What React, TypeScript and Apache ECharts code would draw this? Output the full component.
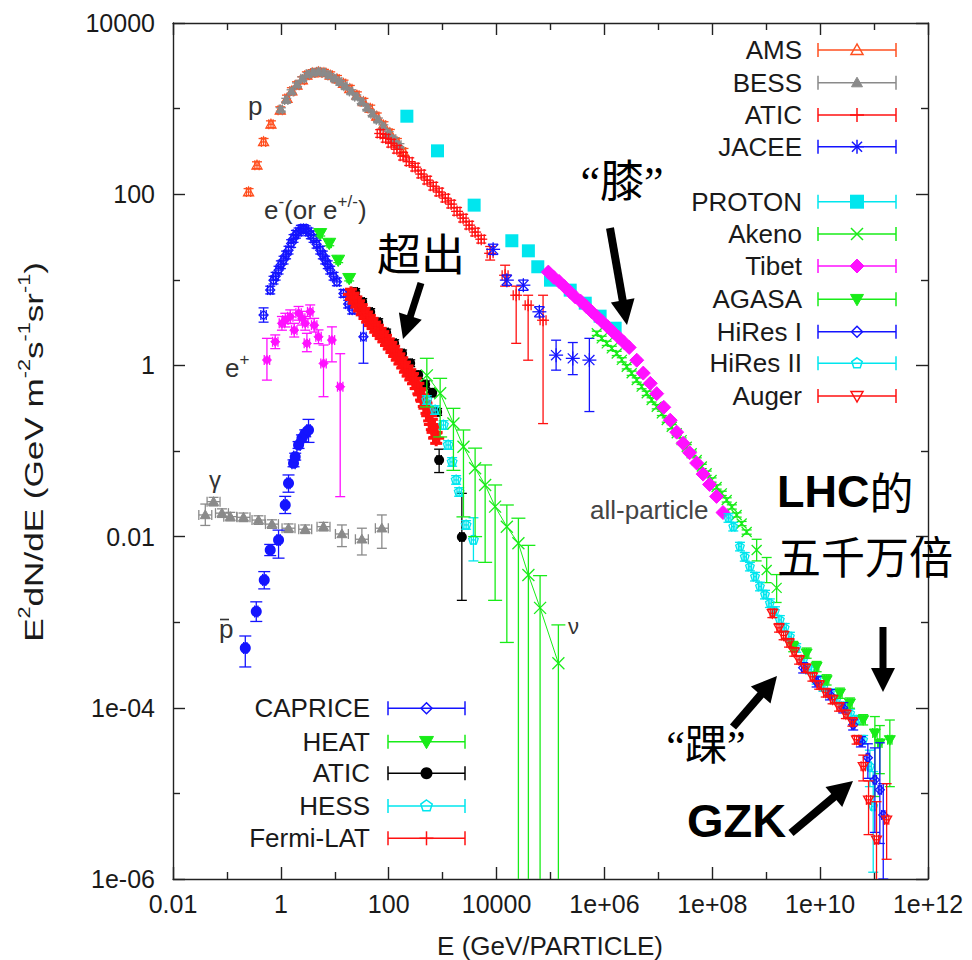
import React, { useEffect, useRef } from 'react';
import * as echarts from 'echarts';

const FONT = "'Liberation Sans', Arial, Helvetica, sans-serif";
const CJK = "'Noto Sans CJK SC', 'Noto Sans CJK JP', sans-serif";
const QCJK = "'Liberation Serif', 'Noto Sans CJK SC', serif";

// ---- axes ----
const xRange = [0.01, 1e12];
const yRange = [1e-6, 1e4];
const xMajorTicks = [0.01, 1, 100, 1e4, 1e6, 1e8, 1e10, 1e12];
const xMinorTicks = [0.1, 10, 1e3, 1e5, 1e7, 1e9, 1e11];
const xTickLabels = ['0.01', '1', '100', '10000', '1e+06', '1e+08', '1e+10', '1e+12'];
const yMajorTicks = [1e-6, 1e-4, 0.01, 1, 100, 1e4];
const yMinorTicks = [1e-5, 1e-3, 0.1, 10, 1000];
const yTickLabels = ['1e-06', '1e-04', '0.01', '1', '100', '10000'];

// ---- data: [E (GeV), E^2 dN/dE, (low), (high)] ----
const amsProton = [[0.252, 106], [0.361, 218], [0.478, 408], [0.655, 656], [0.975, 957], [1.3, 1310], [1.6, 1600], [1.99, 1875], [2.5, 2150], [3.04, 2450], [3.9, 2600], [4.99, 2680], [6.3, 2620], [8.22, 2450], [11, 2220], [14.5, 1960], [19, 1700], [25.7, 1430], [34, 1200], [45.4, 1000], [60, 810], [80, 640], [105, 520], [142, 408], [188, 312]];
const bessProton = [[1.0, 977], [1.26, 1259], [1.58, 1585], [2.0, 1905], [2.51, 2239], [3.16, 2512], [3.98, 2630], [5.01, 2692], [6.31, 2630], [7.94, 2455], [10, 2239], [12.6, 2042], [15.8, 1820], [20, 1585], [25.1, 1380], [31.6, 1202], [39.8, 1023], [50.1, 871], [63.1, 741], [79.4, 617], [100, 513], [126, 437], [158, 372]];
const aticProton = [[69.5, 512], [88, 450], [111, 394], [142, 335], [185, 278], [240, 240], [309, 207], [400, 172], [516, 146], [670, 124], [861, 106], [1120, 90], [1439, 76.6], [1850, 63], [2399, 52.5], [3100, 43.5], [4000, 36.1], [5200, 29.8], [7600, 20.4, 17, 24.5], [14400, 11.3, 8.43, 14.8], [23100, 6.6, 1.81, 8.43], [38500, 5.05, 1.15, 6.6], [72800, 3.37, 0.209, 6.6]];
const jaceeAll = [[8630, 22.7], [15500, 9.91], [31400, 8.65], [62200, 4.23], [1.27e5, 1.318, 0.88, 1.97], [2.59e5, 1.208, 0.78, 1.85], [5.26e5, 1.153, 0.289, 2.07]];
const protonSat = [[217, 815], [802, 321], [3837, 74.5], [19190, 28.5], [38900, 21.8], [58100, 14.2], [1.0e5, 9.9], [2.32e5, 7.57], [4.41e5, 5.33], [8.32e5, 3.76], [1.58e6, 2.72]];
const akenoAll = [[7.21e5, 2.37], [8.9e5, 2.07], [1.104e6, 1.81], [1.37e6, 1.58], [1.69e6, 1.38], [2.1e6, 1.16], [2.59e6, 0.964], [3.2e6, 0.81], [3.97e6, 0.675], [4.9e6, 0.565], [6.08e6, 0.472], [7.5e6, 0.395], [9.33e6, 0.329], [1.16e7, 0.275], [1.43e7, 0.23], [1.77e7, 0.192], [2.19e7, 0.161], [2.7e7, 0.134], [3.36e7, 0.112], [4.15e7, 0.094], [5.14e7, 0.0785], [6.4e7, 0.066], [7.87e7, 0.055], [9.7e7, 0.0458], [1.205e8, 0.038], [1.5e8, 0.032], [1.85e8, 0.0268], [2.3e8, 0.0222], [2.83e8, 0.0179], [3.5e8, 0.0142], [4.34e8, 0.0113], [6.65e8, 0.00698, 0.0052, 0.0093], [1.02e9, 0.00408, 0.0029, 0.0057], [1.56e9, 0.00252, 0.0017, 0.0036]];
const tibetAll = [[9.12e4, 12.3], [1.148e5, 10.7], [1.445e5, 9.55], [1.82e5, 8.32], [2.29e5, 7.24], [2.88e5, 6.31], [3.63e5, 5.62], [4.57e5, 4.9], [5.75e5, 4.27], [7.24e5, 3.72], [9.12e5, 3.24], [1.148e6, 2.82], [1.445e6, 2.45], [1.82e6, 2.14], [2.29e6, 1.86], [2.88e6, 1.62], [3.98e6, 1.15], [5.25e6, 0.813], [7.08e6, 0.617], [9.33e6, 0.468], [1.26e7, 0.324], [1.66e7, 0.229], [2.19e7, 0.166], [2.88e7, 0.123], [3.8e7, 0.0955], [5.13e7, 0.0724], [6.76e7, 0.0537], [8.91e7, 0.0407], [1.2e8, 0.0295], [1.58e8, 0.0191]];
const agasaUHE = [[3.17e9, 5.19e-4], [5.62e9, 4.35e-4], [8.61e9, 3.03e-4], [1.32e10, 2.12e-4], [2.33e10, 1.48e-4], [3.57e10, 1.135e-4], [6.28e10, 7.24e-5], [1.035e11, 5.06e-5, 9.2e-6, 7.9e-5], [1.28e11, 3.87e-5, 1.7e-5, 6.2e-5], [1.96e11, 4.23e-5, 1.2e-5, 7.2e-5]];
const hiresOne = [[4.85e9, 2.93e-4], [8.61e9, 2.01e-4], [1.52e10, 1.42e-4], [2.68e10, 1.0e-4], [4.1e10, 6.32e-5], [5.7e10, 4.01e-5], [7.67e10, 2.61e-5, 1.5e-5, 3.8e-5], [1.035e11, 1.44e-5, 3.5e-6, 3.4e-5], [1.28e11, 1.1e-5, 2.6e-6, 3.9e-5], [1.48e11, 5.6e-6, 1.0e-6, 1.3e-5]];
const hiresTwo = [[2.0e8, 0.0165], [2.45e8, 0.01306], [3.26e8, 0.00764], [4.0e8, 0.0058], [4.99e8, 0.00446], [6.2e8, 0.0034], [7.66e8, 0.00261], [9.5e8, 0.0021], [1.17e9, 0.001667], [1.45e9, 0.00135], [1.79e9, 0.001064], [2.2e9, 8.6e-4], [2.75e9, 6.79e-4], [3.6e9, 5.0e-4], [4.85e9, 3.63e-4], [6.5e9, 2.8e-4], [8.61e9, 2.12e-4], [1.15e10, 1.75e-4], [1.52e10, 1.48e-4], [2.0e10, 1.25e-4], [2.68e10, 1.035e-4], [3.6e10, 8.6e-5], [4.74e10, 7.24e-5], [6.28e10, 4.23e-5], [8.36e10, 2.07e-5, 1.2e-5, 3.2e-5], [9.64e10, 7.05e-6, 1.2e-6, 1.8e-5]];
const augerUHE = [[1.3e9, 1.27e-3], [1.73e9, 8.59e-4], [2.1e9, 7.0e-4], [2.65e9, 5.74e-4], [3.3e9, 4.5e-4], [4.07e9, 3.63e-4], [5.4e9, 2.9e-4], [7.18e9, 2.3e-4], [9.6e9, 1.85e-4], [1.27e10, 1.5e-4], [1.7e10, 1.25e-4], [2.24e10, 1.026e-4], [3.0e10, 8.4e-5], [3.95e10, 6.85e-5], [4.74e10, 4.23e-5], [6.3e10, 2.07e-5, 1.4e-5, 2.8e-5], [7.9e10, 8.4e-6, 3.3e-6, 1.4e-5], [1.11e11, 2.87e-6, 8e-7, 8e-6], [1.71e11, 4.91e-6, 1.7e-6, 1.3e-5]];
const gammaDiffuse = [[0.0397, 0.0179, 0.0135, 0.024], [0.0565, 0.0256], [0.0809, 0.0188], [0.1153, 0.0171], [0.203, 0.0168], [0.385, 0.0156], [0.684, 0.014], [1.387, 0.01253], [2.83, 0.01219], [6.18, 0.01306], [13.55, 0.01074, 0.00764, 0.01368], [31.8, 0.00931, 0.0061, 0.01253], [74.6, 0.01253, 0.0073, 0.0179]];
const antiproton = [[0.219, 4.98e-4, 3.0e-4, 6.9e-4], [0.35, 1.33e-3, 1.02e-3, 1.73e-3], [0.492, 3.12e-3, 2.45e-3, 3.9e-3], [0.635, 6.98e-3, 6.0e-3, 8.1e-3], [0.906, 9.14e-3, 5.6e-3, 0.0119], [1.205, 0.0234, 0.0186, 0.0295], [1.387, 0.042, 0.033, 0.0525], [1.718, 0.0718], [1.845, 0.0859], [2.13, 0.1175], [2.46, 0.1406], [2.83, 0.161], [3.26, 0.176, 0.126, 0.234]];
const positron = [[0.552, 1.156, 0.673, 2.07], [0.787, 1.888], [1.047, 3.1], [1.21, 3.38], [1.493, 3.7], [1.77, 2.58], [2.13, 4.06], [2.49, 3.56], [2.83, 3.1], [3.04, 1.81, 1.445, 2.37], [3.5, 4.23], [4.15, 2.95], [4.99, 2.16], [6.18, 1.055, 0.431, 1.73], [8.85, 1.977, 1.1, 2.82], [12.6, 0.564, 0.0293, 1.37]];
const capriceElectron = [[0.478, 3.87, 3.2, 4.7], [0.635, 7.59], [0.731, 9.91], [0.8, 11.0], [0.906, 12.97], [1.0, 15.0], [1.122, 16.98], [1.25, 19.5], [1.387, 22.2], [1.55, 26.5], [1.718, 30.4], [1.9, 34], [2.13, 36.3], [2.35, 39], [2.63, 39.8], [2.9, 38.5], [3.26, 36.3], [3.6, 33.5], [4.04, 30.4], [4.6, 26], [5.37, 22.2], [6.0, 19.5], [6.64, 17.0], [7.4, 15], [8.22, 12.97], [9.5, 11], [10.94, 9.46], [14.5, 6.93], [17.7, 5.2], [21.0, 4.43], [34.0, 2.16, 1.06, 3.74]];
const heatElectron = [[5.37, 34.8], [7.89, 26.8], [11.56, 17.0], [18.5, 10.4], [29.6, 5.06]];
const aticElectron = [[23.9, 7.2], [32.2, 5.5], [45.3, 4.2], [63.8, 3.2], [89.7, 2.42], [126, 1.82], [177, 1.38], [250, 1.06], [352, 0.77], [474, 0.6], [640, 0.48], [791, 0.286], [861, 0.0785, 0.056, 0.105], [2270, 0.0099, 0.0018, 0.032]];
const fermiElectron = [[19.95, 6.76], [22.4, 6.1], [25.1, 5.5], [28.2, 4.95], [31.6, 4.47], [35.5, 4.05], [39.8, 3.67], [44.7, 3.35], [50.1, 3.09], [56.2, 2.8], [63.1, 2.57], [70.8, 2.36], [79.4, 2.16], [89.1, 1.96], [100, 1.78], [112, 1.62], [126, 1.46], [141, 1.32], [158, 1.19], [178, 1.07], [200, 0.955], [224, 0.86], [251, 0.776], [282, 0.7], [316, 0.617], [355, 0.535], [398, 0.452], [447, 0.38], [501, 0.316], [562, 0.258], [631, 0.204], [708, 0.165], [759, 0.141]];
const hessElectron = [[509, 0.394], [726, 0.301], [1035, 0.201], [1265, 0.1175], [1500, 0.0745], [1778, 0.0459], [2023, 0.0332], [2723, 0.01368], [3724, 0.00914, 0.0052, 0.0166]];
const neutrino = [[509, 0.764, 0.327, 1.21], [899, 0.472, 0.146, 0.706], [1585, 0.21, 0.0594, 0.315], [2432, 0.1122, 0.017, 0.176], [4000, 0.0628, 0.01, 0.108], [6140, 0.0401, 0.005, 0.0687], [9400, 0.0224, 0.0018, 0.0401], [15500, 0.01306, 5.8e-4, 0.0234], [25400, 0.00836, 1e-7, 0.0164], [38900, 0.00356, 1e-7, 0.0079], [64100, 0.00147, 1e-7, 0.0035], [1.4e5, 3.32e-4, 1e-7, 9.3e-4]];

// ---- styles ----
const COL = { orange: '#ff4f1f', gray: '#8a8a8a', red: '#ff1010', blue: '#1414ff', cyan: '#00e6ee', green: '#18ec18', magenta: '#ff10ff', black: '#000000' };

type SDef = { key: string; name: string; color: string; marker: string; size: number; xErr: number; yErr: number; lw?: number; cap?: number; data: number[][] };

const S: Record<string, SDef> = {
  ams: { key: 'ams', name: 'AMS', color: COL.orange, marker: 'tri', size: 5, xErr: 0.04, yErr: 0.04, data: amsProton },
  bess: { key: 'bess', name: 'BESS', color: COL.gray, marker: 'triF', size: 4.5, xErr: 0.03, yErr: 0.02, data: bessProton },
  aticP: { key: 'aticP', name: 'ATIC', color: COL.red, marker: 'plus', size: 6, xErr: 0.055, yErr: 0.045, data: aticProton },
  jacee: { key: 'jacee', name: 'JACEE', color: COL.blue, marker: 'star', size: 7, xErr: 0, yErr: 0.06, data: jaceeAll },
  proton: { key: 'proton', name: 'PROTON', color: COL.cyan, marker: 'sqF', size: 6.5, xErr: 0, yErr: 0, data: protonSat },
  akeno: { key: 'akeno', name: 'Akeno', color: COL.green, marker: 'x', size: 5, xErr: 0, yErr: 0.025, data: akenoAll },
  tibet: { key: 'tibet', name: 'Tibet', color: COL.magenta, marker: 'diaF', size: 7, xErr: 0.02, yErr: 0.02, data: tibetAll },
  agasa: { key: 'agasa', name: 'AGASA', color: COL.green, marker: 'dtriF', size: 5.5, xErr: 0.04, yErr: 0.06, data: agasaUHE },
  hires1: { key: 'hires1', name: 'HiRes I', color: COL.blue, marker: 'dia', size: 4.5, xErr: 0.03, yErr: 0.06, data: hiresOne },
  hires2: { key: 'hires2', name: 'HiRes II', color: COL.cyan, marker: 'pent', size: 4.5, xErr: 0.03, yErr: 0.05, data: hiresTwo },
  auger: { key: 'auger', name: 'Auger', color: COL.red, marker: 'dtri', size: 5, xErr: 0.04, yErr: 0.05, data: augerUHE },
  gamma: { key: 'gamma', name: 'gamma', color: COL.gray, marker: 'triF', size: 5, xErr: 0.12, yErr: 0.05, data: gammaDiffuse },
  pbar: { key: 'pbar', name: 'antiproton', color: COL.blue, marker: 'circF', size: 5.5, xErr: 0.03, yErr: 0.04, cap: 6, data: antiproton },
  posi: { key: 'posi', name: 'positron', color: COL.magenta, marker: 'diaF', size: 4.5, xErr: 0.05, yErr: 0.08, data: positron },
  caprice: { key: 'caprice', name: 'CAPRICE', color: COL.blue, marker: 'dia', size: 4.5, xErr: 0.05, yErr: 0.045, data: capriceElectron },
  heat: { key: 'heat', name: 'HEAT', color: COL.green, marker: 'dtriF', size: 6.5, xErr: 0.04, yErr: 0.03, data: heatElectron },
  aticE: { key: 'aticE', name: 'ATIC', color: COL.black, marker: 'circF', size: 5, xErr: 0.04, yErr: 0.04, data: aticElectron },
  fermi: { key: 'fermi', name: 'Fermi-LAT', color: COL.red, marker: 'plus', size: 8, xErr: 0.05, yErr: 0.06, lw: 3, cap: 6, data: fermiElectron },
  hess: { key: 'hess', name: 'HESS', color: COL.cyan, marker: 'pent', size: 5, xErr: 0.04, yErr: 0.05, data: hessElectron },
  nu: { key: 'nu', name: 'neutrino', color: COL.green, marker: 'x', size: 6, xErr: 0, yErr: 0, cap: 7, data: neutrino },
};

const drawOrder = ['ams', 'bess', 'aticP', 'jacee', 'proton', 'akeno', 'tibet', 'hires2', 'agasa', 'hires1', 'auger', 'gamma', 'pbar', 'posi', 'caprice', 'heat', 'aticE', 'fermi', 'hess', 'nu'];
const topLegend = ['ams', 'bess', 'aticP', 'jacee', 'proton', 'akeno', 'tibet', 'agasa', 'hires1', 'hires2', 'auger'];
const topLegendY = [50, 82.7, 115, 146.7, 201.7, 234, 266, 299.3, 331.7, 363.3, 396];
const bottomLegend = ['caprice', 'heat', 'aticE', 'hess', 'fermi'];
const bottomLegendY = [708.3, 741.7, 773.3, 806, 838.3];

function markerEls(m: string, x: number, y: number, s: number, color: string, lw: number): any[] {
  const line = (x1: number, y1: number, x2: number, y2: number) => ({ type: 'line', shape: { x1, y1, x2, y2 }, style: { stroke: color, lineWidth: lw } });
  const poly = (pts: number[][], filled: boolean) => ({ type: 'polygon', shape: { points: pts }, style: filled ? { fill: color, stroke: color, lineWidth: 1 } : { fill: 'none', stroke: color, lineWidth: lw } });
  switch (m) {
    case 'tri':
    case 'triF':
      return [poly([[x, y - s], [x - s, y + s * 0.75], [x + s, y + s * 0.75]], m === 'triF')];
    case 'dtri':
    case 'dtriF':
      return [poly([[x, y + s], [x - s, y - s * 0.75], [x + s, y - s * 0.75]], m === 'dtriF')];
    case 'dia':
    case 'diaF':
      return [poly([[x, y - s], [x + s, y], [x, y + s], [x - s, y]], m === 'diaF')];
    case 'sqF':
      return [{ type: 'rect', shape: { x: x - s, y: y - s, width: 2 * s, height: 2 * s }, style: { fill: color } }];
    case 'circF':
      return [{ type: 'circle', shape: { cx: x, cy: y, r: s }, style: { fill: color } }];
    case 'pent': {
      const pts: number[][] = [];
      for (let k = 0; k < 5; k++) {
        const a = -Math.PI / 2 + (k * 2 * Math.PI) / 5;
        pts.push([x + s * Math.cos(a), y + s * Math.sin(a)]);
      }
      return [poly(pts, false)];
    }
    case 'plus':
      return [line(x - s, y, x + s, y), line(x, y - s, x, y + s)];
    case 'x':
      return [line(x - s, y - s, x + s, y + s), line(x - s, y + s, x + s, y - s)];
    case 'star': {
      const d = s * 0.72;
      return [line(x - s, y, x + s, y), line(x, y - s, x, y + s), line(x - d, y - d, x + d, y + d), line(x - d, y + d, x + d, y - d)];
    }
  }
  return [];
}

function errSeries(d: SDef) {
  const lw = d.lw || 1.3;
  const cap = d.cap || 5;
  const rows = d.data.map((p) => {
    const E = p[0];
    const F = p[1];
    const lo = p.length > 2 ? p[2] : F / Math.pow(10, d.yErr);
    const hi = p.length > 3 ? p[3] : F * Math.pow(10, d.yErr);
    return [E, F, lo, hi, E / Math.pow(10, d.xErr), E * Math.pow(10, d.xErr)];
  });
  return {
    type: 'custom',
    name: d.name,
    xAxisIndex: 0,
    yAxisIndex: 0,
    clip: true,
    silent: true,
    encode: { x: 0, y: 1 },
    data: rows,
    renderItem: (params: any, api: any) => {
      const E = api.value(0), F = api.value(1), lo = api.value(2), hi = api.value(3), el = api.value(4), eh = api.value(5);
      const c = api.coord([E, F]);
      const children: any[] = [];
      const ln = (x1: number, y1: number, x2: number, y2: number) => children.push({ type: 'line', shape: { x1, y1, x2, y2 }, style: { stroke: d.color, lineWidth: lw } });
      if (lo < F || hi > F) {
        const yl = api.coord([E, lo])[1];
        const yh = api.coord([E, hi])[1];
        ln(c[0], yh, c[0], yl);
        ln(c[0] - cap, yh, c[0] + cap, yh);
        ln(c[0] - cap, yl, c[0] + cap, yl);
      }
      if (eh > el) {
        const xl = api.coord([el, F])[0];
        const xh = api.coord([eh, F])[0];
        ln(xl, c[1], xh, c[1]);
        ln(xl, c[1] - cap, xl, c[1] + cap);
        ln(xh, c[1] - cap, xh, c[1] + cap);
      }
      markerEls(d.marker, c[0], c[1], d.size, d.color, lw).forEach((e) => children.push(e));
      return { type: 'group', children };
    },
  };
}

function legendEls(keys: string[], ys: number[], textRight: number, x1: number, x2: number): any[] {
  const els: any[] = [];
  keys.forEach((k, i) => {
    const d = S[k];
    const y = ys[i];
    const st = { stroke: d.color, lineWidth: 1.5 };
    els.push({ type: 'text', x: textRight, y, style: { text: d.name, fill: '#1a1a1a', fontSize: 26, fontFamily: FONT, align: 'right', verticalAlign: 'middle' } });
    els.push({ type: 'line', shape: { x1, y1: y, x2, y2: y }, style: st });
    els.push({ type: 'line', shape: { x1, y1: y - 7, x2: x1, y2: y + 7 }, style: st });
    els.push({ type: 'line', shape: { x1: x2, y1: y - 7, x2, y2: y + 7 }, style: st });
    const mk = d.marker === 'plus' ? 7 : Math.min(d.size + 1, 7);
    markerEls(d.marker, (x1 + x2) / 2, y, mk, d.color, 1.5).forEach((e) => els.push(e));
  });
  return els;
}

function arrow(x1: number, y1: number, x2: number, y2: number, w = 7, hl = 24, hw = 12): any[] {
  const dx = x2 - x1, dy = y2 - y1;
  const L = Math.hypot(dx, dy);
  const ux = dx / L, uy = dy / L, px = -uy, py = ux;
  const bx = x2 - ux * hl, by = y2 - uy * hl;
  return [
    { type: 'line', shape: { x1, y1, x2: bx + ux * 3, y2: by + uy * 3 }, style: { stroke: '#000', lineWidth: w } },
    { type: 'polygon', shape: { points: [[x2, y2], [bx + px * hw, by + py * hw], [bx - px * hw, by - py * hw]] }, style: { fill: '#000' } },
  ];
}

const fmtFrom = (ticks: number[], labels: string[]) => (v: number) => {
  const i = ticks.findIndex((t) => Math.abs(Math.log10(t) - Math.log10(v)) < 0.01);
  return i >= 0 ? labels[i] : '';
};

const AX = '#222';
function xAx(pos: string, ticks: number[], len: number, showLine: boolean, showLabel: boolean) {
  return {
    type: 'log', logBase: 10, min: xRange[0], max: xRange[1], position: pos, gridIndex: 0,
    axisLine: { show: showLine, onZero: false, lineStyle: { color: AX, width: 1.4 } },
    axisTick: { show: true, inside: true, length: len, customValues: ticks, lineStyle: { color: AX, width: 1.4 } },
    axisLabel: showLabel
      ? { show: true, customValues: xMajorTicks, formatter: fmtFrom(xMajorTicks, xTickLabels), fontSize: 25, color: '#1a1a1a', fontFamily: FONT, margin: 12, showMinLabel: true, showMaxLabel: true }
      : { show: false },
    splitLine: { show: false },
  };
}
function yAx(pos: string, ticks: number[], len: number, showLine: boolean, showLabel: boolean) {
  return {
    type: 'log', logBase: 10, min: yRange[0], max: yRange[1], position: pos, gridIndex: 0,
    axisLine: { show: showLine, onZero: false, lineStyle: { color: AX, width: 1.4 } },
    axisTick: { show: true, inside: true, length: len, customValues: ticks, lineStyle: { color: AX, width: 1.4 } },
    axisLabel: showLabel
      ? { show: true, customValues: yMajorTicks, formatter: fmtFrom(yMajorTicks, yTickLabels), fontSize: 25, color: '#1a1a1a', fontFamily: FONT, margin: 18, showMinLabel: true, showMaxLabel: true }
      : { show: false },
    splitLine: { show: false },
  };
}

function buildOption() {
  const txt = (text: string, x: number, y: number, size: number, opts: any = {}) => ({
    type: 'text', x, y, z: 100,
    style: { text, fill: opts.fill || '#000', fontSize: size, fontFamily: opts.family || FONT, fontWeight: opts.weight || 'normal', align: opts.align || 'left', verticalAlign: 'middle' },
  });
  const richSup = (size: number, sup: number, fill: string) => ({
    m: { fontSize: size, lineHeight: size + 4, verticalAlign: 'bottom', fill, fontFamily: FONT },
    s: { fontSize: sup, lineHeight: sup + 1, verticalAlign: 'top', fill, fontFamily: FONT },
  });

  const graphics: any[] = [
    ...legendEls(topLegend, topLegendY, 802, 818, 896),
    ...legendEls(bottomLegend, bottomLegendY, 370, 388, 465),
    txt('p', 248, 106, 26, { fill: '#333' }),
    { type: 'text', x: 264, y: 208, z: 100, style: { text: '{m|e}{s|-}{m|(or e}{s|+/-}{m|)}', rich: richSup(26, 17, '#333'), align: 'left', verticalAlign: 'middle' } },
    { type: 'text', x: 225, y: 366, z: 100, style: { text: '{m|e}{s|+}', rich: richSup(26, 17, '#333'), align: 'left', verticalAlign: 'middle' } },
    txt('γ', 209, 479, 24, { fill: '#333' }),
    txt('p', 219, 629, 26, { fill: '#333' }),
    { type: 'line', z: 100, shape: { x1: 220, y1: 619.5, x2: 229, y2: 619.5 }, style: { stroke: '#333', lineWidth: 1.6 } },
    txt('ν', 568, 626, 22, { fill: '#333' }),
    txt('all-particle', 590, 510, 26, { fill: '#444' }),
    txt('“膝”', 622, 182, 44, { family: QCJK, align: 'center' }),
    txt('超出', 421, 252, 44, { family: CJK, align: 'center' }),
    txt('“踝”', 706, 746, 42, { family: QCJK, align: 'center' }),
    {
      type: 'text', x: 777, y: 523, z: 100,
      style: {
        text: '{b|LHC}{c|的}\n{c|五千万倍}', align: 'left', verticalAlign: 'middle',
        rich: {
          b: { fontSize: 45, lineHeight: 64, fontWeight: 'bold', fontFamily: FONT, fill: '#000' },
          c: { fontSize: 44, lineHeight: 64, fontFamily: CJK, fill: '#000' },
        },
      },
    },
    txt('GZK', 687, 820, 47, { weight: 'bold' }),
    ...arrow(421, 283, 403, 339, 7, 24, 12),
    ...arrow(610, 228, 627, 325, 8, 25, 12),
    ...arrow(883, 627, 883, 692, 7, 24, 12),
    ...arrow(733, 727, 777, 676, 8, 25, 13),
    ...arrow(791, 833, 853, 781, 8, 25, 13),
    txt('E (GeV/PARTICLE)', 550, 946, 26, { fill: '#1a1a1a', align: 'center' }),
    {
      type: 'text', x: 32, y: 452, rotation: Math.PI / 2, scaleX: 1.35, z: 100,
      style: { text: '{m|E}{s|2}{m|dN/dE (GeV m}{s|-2}{m|s}{s|-1}{m|sr}{s|-1}{m|)}', rich: richSup(26, 16, '#1a1a1a'), align: 'center', verticalAlign: 'middle' },
    },
  ];

  const series: any[] = [
    {
      type: 'line', name: 'neutrino-line', xAxisIndex: 0, yAxisIndex: 0, silent: true, symbol: 'none',
      data: neutrino.map((p) => [p[0], p[1]]), lineStyle: { color: COL.green, width: 1 },
    },
    ...drawOrder.map((k) => errSeries(S[k])),
  ];

  return {
    animation: false,
    backgroundColor: '#ffffff',
    grid: { left: 173, right: 44, top: 23, bottom: 81, containLabel: false, outerBoundsMode: 'none' },
    xAxis: [
      xAx('bottom', xMajorTicks, 12, true, true),
      xAx('bottom', xMinorTicks, 7, false, false),
      xAx('top', xMajorTicks, 12, true, false),
      xAx('top', xMinorTicks, 7, false, false),
    ],
    yAxis: [
      yAx('left', yMajorTicks, 12, true, true),
      yAx('left', yMinorTicks, 7, false, false),
      yAx('right', yMajorTicks, 12, true, false),
      yAx('right', yMinorTicks, 7, false, false),
    ],
    series,
    graphic: { elements: graphics },
  };
}

export default function App() {
  const ref = useRef<HTMLDivElement>(null);
  useEffect(() => {
    document.body.style.margin = '0';
    const chart = echarts.init(ref.current as HTMLDivElement, null, { renderer: 'svg' });
    chart.setOption(buildOption() as any);
    return () => chart.dispose();
  }, []);
  return <div ref={ref} style={{ width: 972, height: 960 }} />;
}
